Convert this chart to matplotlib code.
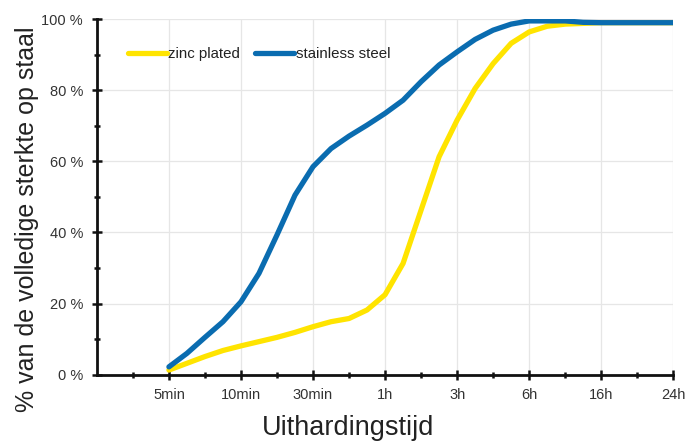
import numpy as np
import matplotlib
matplotlib.use("Agg")
import matplotlib.pyplot as plt
from matplotlib.ticker import FixedLocator, FixedFormatter

plt.rcParams['font.family'] = ['Liberation Sans', 'DejaVu Sans']

tick_labels = ["5min", "10min", "30min", "1h", "3h", "6h", "16h", "24h"]
y_ticks = [0, 20, 40, 60, 80, 100]
y_tick_labels = ["0 %", "20 %", "40 %", "60 %", "80 %", "100 %"]

x_pos = [1, 1.25, 1.5, 1.75, 2, 2.25, 2.5, 2.75, 3, 3.25, 3.5, 3.75, 4,
         4.25, 4.5, 4.75, 5, 5.25, 5.5, 5.75, 6, 6.25, 6.5, 6.75, 7, 7.5, 8]
zinc = [1.3, 3.2, 5.1, 6.8, 8.1, 9.3, 10.5, 11.9, 13.5, 14.9, 15.8, 18.2, 22.5,
        31.3, 46.3, 61.3, 71.6, 80.5, 87.5, 93.2, 96.4, 98.0, 98.6, 98.8, 99, 99, 99]
stainless = [2.2, 6.0, 10.5, 14.9, 20.5, 28.5, 39.3, 50.5, 58.5, 63.6, 67.1, 70.2, 73.5,
             77.2, 82.4, 87.1, 90.8, 94.3, 96.9, 98.6, 99.5, 99.5, 99.5, 99.1, 99, 99, 99]

fig = plt.figure(figsize=(6.87, 4.45), dpi=100)
ax = fig.add_axes([0.141, 0.158, 0.839, 0.799])

ax.plot(x_pos, zinc, color="#FFE400", lw=3.8, solid_capstyle="round",
        solid_joinstyle="round", label="zinc plated", zorder=3)
ax.plot(x_pos, stainless, color="#0A6CB0", lw=3.8, solid_capstyle="round",
        solid_joinstyle="round", label="stainless steel", zorder=4)

ax.set_xlim(0, 8)
ax.set_ylim(0, 100)
ax.xaxis.set_major_locator(FixedLocator(range(1, 9)))
ax.xaxis.set_major_formatter(FixedFormatter(tick_labels))
ax.xaxis.set_minor_locator(FixedLocator([0.5 + i for i in range(8)]))
ax.yaxis.set_major_locator(FixedLocator(y_ticks))
ax.yaxis.set_major_formatter(FixedFormatter(y_tick_labels))
ax.yaxis.set_minor_locator(FixedLocator([10, 30, 50, 70, 90]))

for s in ["top", "right"]:
    ax.spines[s].set_visible(False)
for s in ["left", "bottom"]:
    ax.spines[s].set_linewidth(2)
    ax.spines[s].set_color("#111111")

ax.tick_params(which="major", direction="inout", length=7, width=1.8, color="#111111",
               labelsize=10.5, labelcolor="#333333")
ax.tick_params(which="minor", direction="inout", length=5, width=1.8, color="#111111")
ax.tick_params(axis="y", pad=6.5)
ax.tick_params(axis="x", pad=6)

ax.grid(True, which="major", color="#e6e6e6", lw=0.9, zorder=0)
ax.set_axisbelow(True)

ax.set_ylabel("% van de volledige sterkte op staal", fontsize=18, color="#222222")
ax.yaxis.set_label_coords(-0.101, 0.438)
ax.set_xlabel("Uithardingstijd", fontsize=19.5, color="#222222")
ax.xaxis.set_label_coords(0.436, -0.113)

leg = ax.legend(loc="upper left", bbox_to_anchor=(0.03, 0.96), ncol=2, frameon=False,
                fontsize=10.8, handlelength=2.6, handletextpad=0.1, columnspacing=1.0)
for t in leg.get_texts():
    t.set_color("#222222")

fig.savefig("out.png", dpi=100)
